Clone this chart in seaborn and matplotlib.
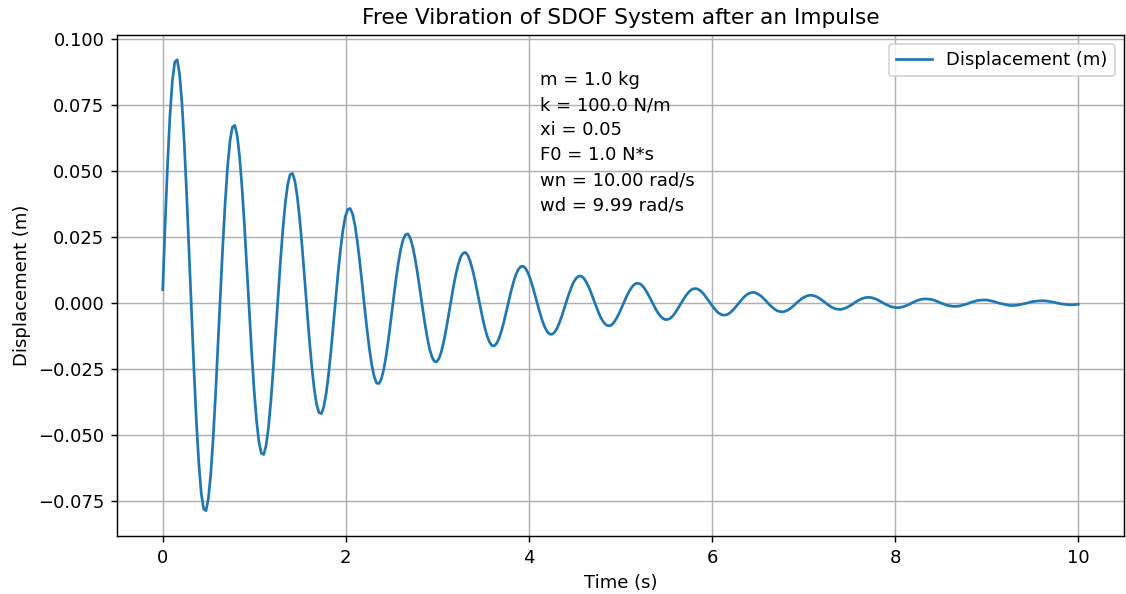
import numpy as np
import pandas as pd
import matplotlib
matplotlib.use("Agg")
import matplotlib.pyplot as plt
import seaborn as sns

disp = [
    0.0050, 0.0302, 0.0528, 0.0712, 0.0843, 0.0914, 0.0922, 0.0867, 0.0755, 0.0595, 0.0400, 0.0182,
    -0.0043, -0.0258, -0.0451, -0.0608, -0.0721, -0.0781, -0.0788, -0.0741, -0.0645, -0.0509, -0.0341, -0.0155,
    0.0036, 0.0221, 0.0385, 0.0520, 0.0616, 0.0667, 0.0673, 0.0633, 0.0551, 0.0435, 0.0292, 0.0133,
    -0.0031, -0.0189, -0.0329, -0.0444, -0.0526, -0.0570, -0.0575, -0.0541, -0.0471, -0.0371, -0.0249, -0.0113,
    0.0027, 0.0161, 0.0281, 0.0379, 0.0449, 0.0487, 0.0491, 0.0462, 0.0402, 0.0317, 0.0213, 0.0097,
    -0.0023, -0.0138, -0.0240, -0.0324, -0.0384, -0.0416, -0.0420, -0.0395, -0.0344, -0.0271, -0.0182, -0.0083,
    0.0019, 0.0118, 0.0205, 0.0277, 0.0328, 0.0355, 0.0358, 0.0337, 0.0294, 0.0231, 0.0155, 0.0071,
    -0.0017, -0.0100, -0.0175, -0.0236, -0.0280, -0.0304, -0.0306, -0.0288, -0.0251, -0.0198, -0.0133, -0.0060,
    0.0014, 0.0086, 0.0150, 0.0202, 0.0239, 0.0259, 0.0262, 0.0246, 0.0214, 0.0169, 0.0113, 0.0052,
    -0.0012, -0.0073, -0.0128, -0.0173, -0.0204, -0.0222, -0.0223, -0.0210, -0.0183, -0.0144, -0.0097, -0.0044,
    0.0010, 0.0063, 0.0109, 0.0147, 0.0175, 0.0189, 0.0191, 0.0180, 0.0156, 0.0123, 0.0083, 0.0038,
    -0.0009, -0.0053, -0.0093, -0.0126, -0.0149, -0.0162, -0.0163, -0.0153, -0.0134, -0.0105, -0.0071, -0.0032,
    0.0008, 0.0046, 0.0080, 0.0108, 0.0127, 0.0138, 0.0139, 0.0131, 0.0114, 0.0090, 0.0060, 0.0027,
    -0.0006, -0.0039, -0.0068, -0.0092, -0.0109, -0.0118, -0.0119, -0.0112, -0.0098, -0.0077, -0.0052, -0.0023,
    0.0005, 0.0033, 0.0058, 0.0079, 0.0093, 0.0101, 0.0102, 0.0096, 0.0083, 0.0066, 0.0044, 0.0020,
    -0.0005, -0.0028, -0.0050, -0.0067, -0.0079, -0.0086, -0.0087, -0.0082, -0.0071, -0.0056, -0.0038, -0.0017,
    0.0004, 0.0024, 0.0042, 0.0057, 0.0068, 0.0074, 0.0074, 0.0070, 0.0061, 0.0048, 0.0032, 0.0015,
    -0.0003, -0.0021, -0.0036, -0.0049, -0.0058, -0.0063, -0.0063, -0.0060, -0.0052, -0.0041, -0.0027, -0.0012,
    0.0003, 0.0018, 0.0031, 0.0042, 0.0050, 0.0054, 0.0054, 0.0051, 0.0044, 0.0035, 0.0023, 0.0011,
    -0.0002, -0.0015, -0.0026, -0.0036, -0.0042, -0.0046, -0.0046, -0.0044, -0.0038, -0.0030, -0.0020, -0.0009,
    0.0002, 0.0013, 0.0023, 0.0031, 0.0036, 0.0039, 0.0040, 0.0037, 0.0032, 0.0026, 0.0017, 0.0008,
    -0.0002, -0.0011, -0.0019, -0.0026, -0.0031, -0.0033, -0.0034, -0.0032, -0.0028, -0.0022, -0.0015, -0.0007,
    0.0002, 0.0009, 0.0017, 0.0022, 0.0026, 0.0029, 0.0029, 0.0027, 0.0024, 0.0019, 0.0013, 0.0006,
    -0.0001, -0.0008, -0.0014, -0.0019, -0.0023, -0.0024, -0.0025, -0.0023, -0.0020, -0.0016, -0.0011, -0.0005,
    0.0001, 0.0007, 0.0012, 0.0016, 0.0019, 0.0021, 0.0021, 0.0020, 0.0017, 0.0014, 0.0009, 0.0004,
    -0.0001, -0.0006, -0.0010, -0.0014, -0.0016, -0.0018, -0.0018, -0.0017, -0.0015, -0.0012, -0.0008, -0.0004,
    0.0001, 0.0005, 0.0009, 0.0012, 0.0014, 0.0015, 0.0015, 0.0014, 0.0013, 0.0010, 0.0007, 0.0003,
    -0.0001, -0.0004, -0.0008, -0.0010, -0.0012, -0.0013, -0.0013, -0.0012, -0.0011, -0.0008, -0.0006, -0.0003,
    0.0001, 0.0004, 0.0006, 0.0009, 0.0010, 0.0011, 0.0011, 0.0011, 0.0009, 0.0007, 0.0005, 0.0002,
    -0.0001, -0.0003, -0.0005, -0.0007, -0.0009, -0.0010, -0.0010, -0.0009, -0.0008, -0.0006, -0.0004, -0.0002,
    0.0000, 0.0003, 0.0005, 0.0006, 0.0007, 0.0008, 0.0008, 0.0008, 0.0007, 0.0005, 0.0004, 0.0002,
    0.0000, -0.0002, -0.0004, -0.0005, -0.0006, -0.0007, -0.0007, -0.0007, -0.0006, -0.0005,
]
t_start, t_end = 0.0, 10.0

param_lines = [
    "m = 1.0 kg",
    "k = 100.0 N/m",
    "xi = 0.05",
    "F0 = 1.0 N*s",
    "wn = 10.00 rad/s",
    "wd = 9.99 rad/s",
]

time = np.linspace(t_start, t_end, len(disp))
df = pd.DataFrame({"Time (s)": time, "Displacement (m)": disp})

DPI = 130
fig = plt.figure(figsize=(1126 / DPI, 594 / DPI), dpi=DPI)
ax = fig.add_axes([117 / 1126, 58 / 594, 1007 / 1126, 501 / 594])

sns.lineplot(data=df, x="Time (s)", y="Displacement (m)", ax=ax,
             color="#1f77b4", linewidth=1.5, estimator=None,
             label="Displacement (m)")

ax.set_xlim(-0.5, 10.5)
ax.set_ylim(-0.0884, 0.1016)
ax.set_title("Free Vibration of SDOF System after an Impulse")
ax.set_xlabel("Time (s)")
ax.set_ylabel("Displacement (m)")
ax.grid(True)
ax.legend(loc="upper right")

for i, line in enumerate(param_lines):
    ax.text(0.42, 0.9 - 0.05 * i, line, transform=ax.transAxes)

fig.savefig("out.png", dpi=DPI)
